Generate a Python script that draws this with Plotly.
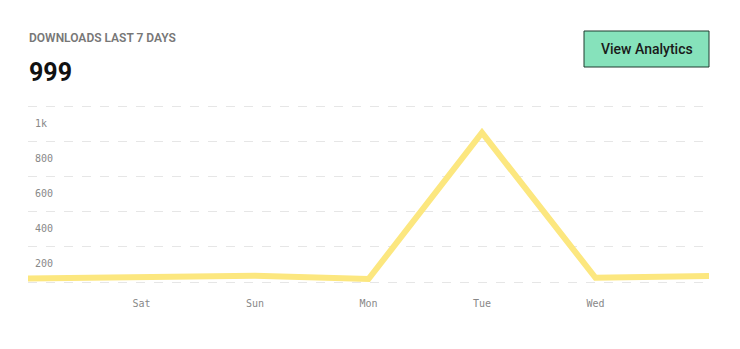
import plotly.graph_objects as go

W, H = 740, 349

# ---- data ----
days = ["Fri", "Sat", "Sun", "Mon", "Tue", "Wed", "Thu"]
downloads = [20, 27, 36, 17, 848, 24, 34]
tick_days = ["Sat", "Sun", "Mon", "Tue", "Wed"]
y_tick_vals = [0, 200, 400, 600, 800, 1000]
y_tick_text = ["", "200", "400", "600", "800", "1k"]
title_text = "DOWNLOADS LAST 7 DAYS"
total_text = "999"
button_text = "View Analytics"


def px(x):
    return x / W


def py(y):
    return 1 - y / H


fig = go.Figure()
fig.add_trace(go.Scatter(
    x=days, y=downloads, mode="lines",
    line=dict(color="#fce77f", width=6, shape="linear"),
    hoverinfo="skip", showlegend=False,
))

# small padding so the 0 and 1k gridlines are drawn inside the plot area
pad = 10
fig.update_layout(
    width=W, height=H,
    margin=dict(l=0, r=0, t=0, b=0),
    paper_bgcolor="white", plot_bgcolor="white",
    xaxis=dict(
        domain=[px(28), px(709)],
        type="category",
        range=[0, len(days) - 1],
        tickmode="array", tickvals=tick_days, ticktext=tick_days,
        showgrid=False, zeroline=False, showline=False,
        ticks="", ticklabelstandoff=12,
        tickfont=dict(family="DejaVu Sans Mono", size=10, color="#888888"),
        automargin=False, fixedrange=True,
    ),
    yaxis=dict(
        domain=[py(282 + 1.76), py(106 - 1.76)],
        range=[-pad, 1000 + pad],
        tickmode="array", tickvals=y_tick_vals, ticktext=y_tick_text,
        showgrid=True, gridcolor="#e6e6e6", gridwidth=1, griddash="dash",
        zeroline=False, showline=False, ticks="",
        ticklabelposition="inside", ticklabelshift=17, ticklabelstandoff=4,
        tickfont=dict(family="DejaVu Sans Mono", size=10, color="#888888"),
        automargin=False, fixedrange=True,
    ),
    font=dict(family="Roboto"),
)

fig.add_annotation(
    text=title_text, xref="paper", yref="paper",
    x=px(27), y=py(38), xanchor="left", yanchor="middle",
    showarrow=False,
    font=dict(family="Roboto", size=12, color="#777777", weight=600),
)
fig.add_annotation(
    text=total_text, xref="paper", yref="paper",
    x=px(27), y=py(72), xanchor="left", yanchor="middle",
    showarrow=False,
    font=dict(family="Roboto", size=25, color="#111111", weight=700),
)
fig.add_shape(
    type="rect", xref="paper", yref="paper",
    x0=px(584), x1=px(709), y0=py(67), y1=py(31),
    fillcolor="#86e2bb", line=dict(color="#1e3a2e", width=1),
    layer="above",
)
fig.add_annotation(
    text=button_text, xref="paper", yref="paper",
    x=px(646.5), y=py(49), xanchor="center", yanchor="middle",
    showarrow=False,
    font=dict(family="Roboto", size=14, color="#1a1a1a", weight=500),
)

fig.write_html("out.html", config=dict(displayModeBar=False))
